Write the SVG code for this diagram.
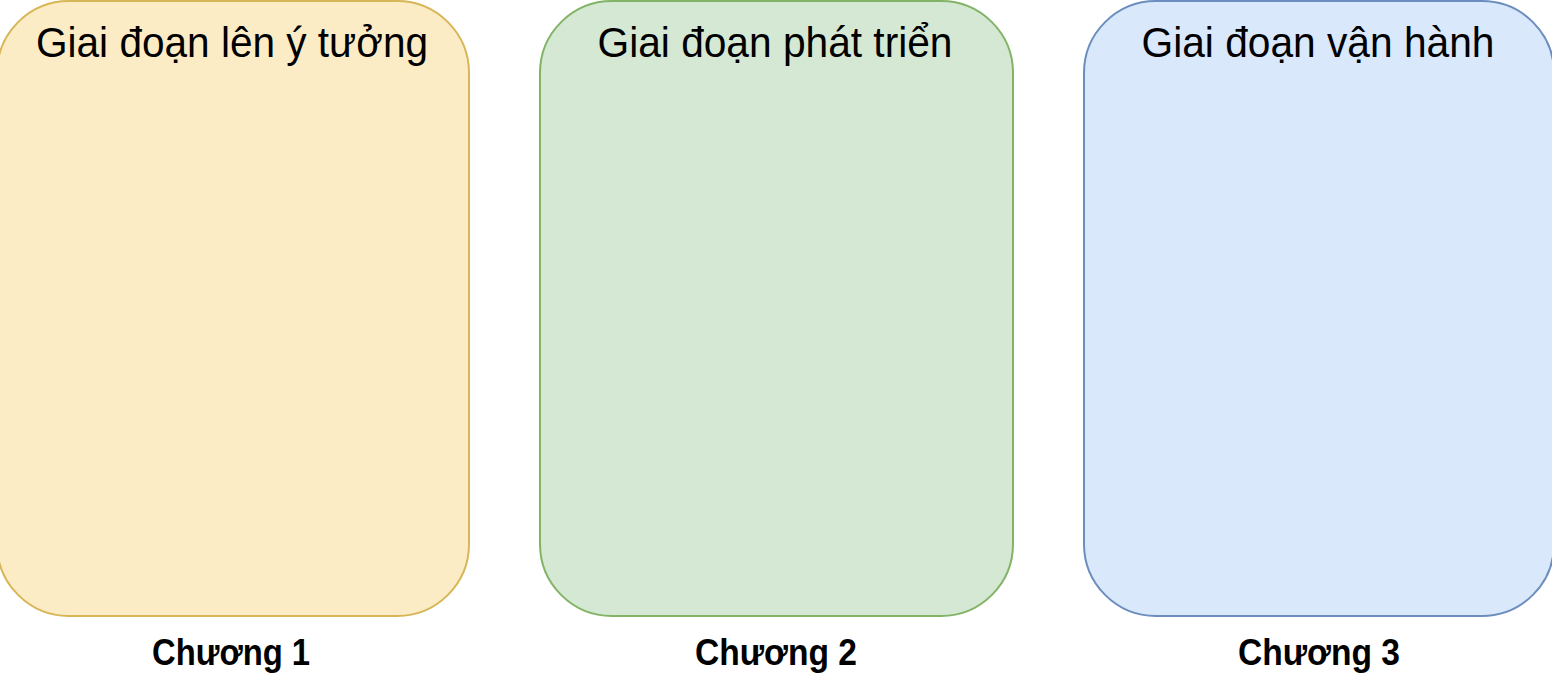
<svg xmlns="http://www.w3.org/2000/svg" width="1552" height="688" viewBox="0 0 1552 688">
<style>
.box{stroke-width:2}
.title{font-family:"Liberation Sans",Arial,sans-serif;font-size:43px;fill:#000;text-anchor:middle}
.label{font-family:"Liberation Sans",Arial,sans-serif;font-size:36px;font-weight:bold;fill:#000;text-anchor:middle}
</style>
<rect width="1552" height="688" fill="#ffffff"/>
<g id="stage1">
<rect class="box" x="-3" y="1" width="472" height="615" rx="72" ry="72" fill="#fcecc6" stroke="#d6b656"/>
<text class="title" x="232" y="57" textLength="392" lengthAdjust="spacingAndGlyphs">Giai đoạn lên ý tưởng</text>
<text class="label" x="231" y="665" textLength="158" lengthAdjust="spacingAndGlyphs">Chương 1</text>
</g>
<g id="stage2">
<rect class="box" x="540" y="1" width="473" height="615" rx="72" ry="72" fill="#d5e8d4" stroke="#82b366"/>
<text class="title" x="775" y="57" textLength="355" lengthAdjust="spacingAndGlyphs">Giai đoạn phát triển</text>
<text class="label" x="776" y="665" textLength="162" lengthAdjust="spacingAndGlyphs">Chương 2</text>
</g>
<g id="stage3">
<rect class="box" x="1084" y="1" width="470" height="615" rx="72" ry="72" fill="#dae8fc" stroke="#6c8ebf"/>
<text class="title" x="1318" y="57" textLength="353" lengthAdjust="spacingAndGlyphs">Giai đoạn vận hành</text>
<text class="label" x="1319" y="665" textLength="162" lengthAdjust="spacingAndGlyphs">Chương 3</text>
</g>
<g id="connectors"></g>
</svg>
